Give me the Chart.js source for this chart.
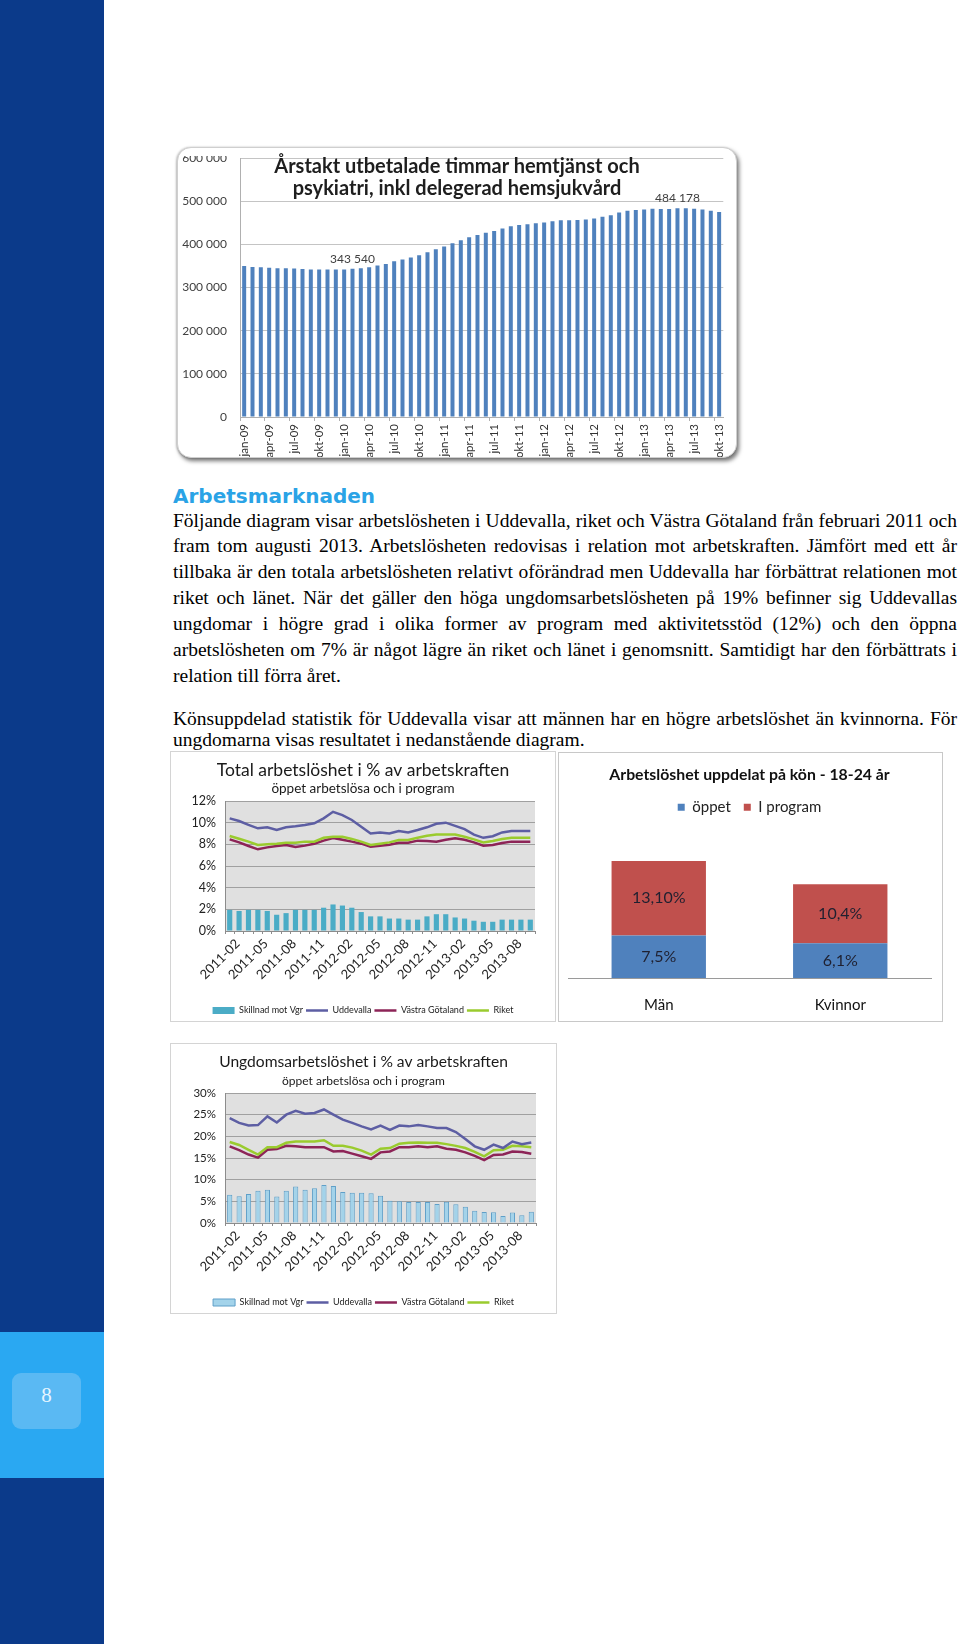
<!DOCTYPE html>
<html><head><meta charset="utf-8">
<script src="https://cdn.jsdelivr.net/npm/chart.js@4.4.0/dist/chart.umd.min.js"></script>
<style>
html,body{margin:0;padding:0;background:#fff;}
body{width:960px;height:1644px;position:relative;overflow:hidden;font-family:"Liberation Serif","Times New Roman",serif;}
.abs{position:absolute;}
#side{left:0;top:0;width:104px;height:1644px;background:#0b3a8a;}
#band{left:0;top:1332px;width:104px;height:146px;background:#2aa8f2;}
#pbox{left:12px;top:1373px;width:69px;height:56px;border-radius:9px;background:#5ab9f3;color:#e6f5ff;font:21px "Liberation Serif",serif;text-align:center;line-height:44px;}
#h1{left:173px;top:483px;font:bold 20px "DejaVu Sans",sans-serif;color:#2aa3e6;line-height:26px;white-space:nowrap;}
.ln{position:absolute;left:173px;width:784px;font-size:19.5px;line-height:24px;white-space:nowrap;color:#000;}
#card{left:177px;top:147px;width:560px;height:311px;box-sizing:border-box;border:1px solid #cfcfcf;border-radius:14px;background:#fff;overflow:hidden;box-shadow:2px 3px 4px rgba(0,0,0,0.55),-1px 0 2px rgba(0,0,0,0.2);}
#clip1{left:0;top:8px;width:558px;height:301px;overflow:hidden;}
#c1{position:absolute;left:0;top:-8px;}
#t1{left:0;top:6px;width:558px;text-align:center;font:bold 20px Lato,sans-serif;line-height:22px;color:#1e1e1e;}
.box{position:absolute;box-sizing:border-box;border:1px solid #d4d4d4;background:#fff;}
canvas{display:block;}
</style></head>
<body>
<div id="side" class="abs"></div>
<div id="band" class="abs"></div>
<div id="pbox" class="abs">8</div>

<div id="card" class="abs">
  <div id="clip1" class="abs"><canvas id="c1" width="558" height="309"></canvas></div>
  <div id="t1" class="abs">Årstakt utbetalade timmar hemtjänst och<br>psykiatri, inkl delegerad hemsjukvård</div>
</div>

<div id="h1" class="abs">Arbetsmarknaden</div>
<div class="ln j" style="top:509px"><span>Följande diagram visar arbetslösheten i Uddevalla, riket och Västra Götaland från februari 2011 och</span></div>
<div class="ln j" style="top:534px"><span>fram tom augusti 2013. Arbetslösheten redovisas i relation mot arbetskraften. Jämfört med ett år</span></div>
<div class="ln j" style="top:560px"><span>tillbaka är den totala arbetslösheten relativt oförändrad men Uddevalla har förbättrat relationen mot</span></div>
<div class="ln j" style="top:586px"><span>riket och länet. När det gäller den höga ungdomsarbetslösheten på 19% befinner sig Uddevallas</span></div>
<div class="ln j" style="top:612px"><span>ungdomar i högre grad i olika former av program med aktivitetsstöd (12%) och den öppna</span></div>
<div class="ln j" style="top:638px"><span>arbetslösheten om 7% är något lägre än riket och länet i genomsnitt. Samtidigt har den förbättrats i</span></div>
<div class="ln" style="top:664px"><span>relation till förra året.</span></div>
<div class="ln j" style="top:707px"><span>Könsuppdelad statistik för Uddevalla visar att männen har en högre arbetslöshet än kvinnorna. För</span></div>
<div class="ln" style="top:728px"><span>ungdomarna visas resultatet i nedanstående diagram.</span></div>

<div class="box" style="left:170px;top:751px;width:386px;height:271px;"></div>
<canvas id="c2" class="abs" width="384" height="273" style="left:171px;top:752px;"></canvas>

<div class="box" style="left:558px;top:752px;width:385px;height:270px;border-color:#c8c8c8;"></div>
<canvas id="c3" class="abs" width="380" height="268" style="left:559px;top:753px;"></canvas>

<div class="box" style="left:170px;top:1043px;width:387px;height:271px;"></div>
<canvas id="c4" class="abs" width="385" height="273" style="left:171px;top:1044px;"></canvas>

<script>
// ---------- DATA ----------
const hemMonths = ['jan-09','feb-09','mar-09','apr-09','maj-09','jun-09','jul-09','aug-09','sep-09','okt-09','nov-09','dec-09',
 'jan-10','feb-10','mar-10','apr-10','maj-10','jun-10','jul-10','aug-10','sep-10','okt-10','nov-10','dec-10',
 'jan-11','feb-11','mar-11','apr-11','maj-11','jun-11','jul-11','aug-11','sep-11','okt-11','nov-11','dec-11',
 'jan-12','feb-12','mar-12','apr-12','maj-12','jun-12','jul-12','aug-12','sep-12','okt-12','nov-12','dec-12',
 'jan-13','feb-13','mar-13','apr-13','maj-13','jun-13','jul-13','aug-13','sep-13','okt-13'];
const hemHours = [350000,348000,347000,346000,345000,345000,344000,343000,342000,342000,342000,342000,
 342000,343540,345000,347000,351000,355000,361000,365000,370000,375000,382000,389000,
 395000,403000,410000,417000,422000,427000,431000,437000,442000,445000,447000,449000,
 451000,454000,456000,456000,457000,458000,460000,464000,468000,474000,478000,480000,
 481000,483000,482000,482000,484178,484000,483000,481000,478000,475000];
const hemLabelledIdx = [13, 52];
const hemYTicks = ['0','100 000','200 000','300 000','400 000','500 000','600 000'];

const monthCats = ['2011-02','2011-03','2011-04','2011-05','2011-06','2011-07','2011-08','2011-09','2011-10','2011-11','2011-12',
 '2012-01','2012-02','2012-03','2012-04','2012-05','2012-06','2012-07','2012-08','2012-09','2012-10','2012-11','2012-12',
 '2013-01','2013-02','2013-03','2013-04','2013-05','2013-06','2013-07','2013-08','2013-09','2013-10'];
const seriesNames = ['Skillnad mot Vgr','Uddevalla','Västra Götaland','Riket'];

const totDiff = [1.95,1.85,1.95,1.95,1.85,1.5,1.65,1.95,1.95,1.95,2.15,2.45,2.35,2.15,1.75,1.35,1.35,1.15,1.15,1.05,1.05,1.35,1.55,1.55,1.25,1.15,0.95,0.85,0.85,1.05,1.05,1.05,1.05];
const totUdd = [10.4,10.15,9.8,9.48,9.57,9.32,9.57,9.66,9.78,9.94,10.4,11.0,10.7,10.25,9.63,9.0,9.1,9.0,9.23,9.1,9.32,9.57,9.9,10.0,9.7,9.4,8.9,8.6,8.75,9.1,9.23,9.23,9.23];
const totVG = [8.46,8.18,7.85,7.54,7.72,7.85,7.94,7.75,7.88,8.06,8.34,8.58,8.43,8.25,8.06,7.78,7.88,7.97,8.15,8.15,8.34,8.3,8.25,8.43,8.55,8.43,8.18,7.88,7.94,8.12,8.25,8.25,8.25];
const totRiket = [8.77,8.52,8.25,7.94,8.0,8.06,8.15,8.15,8.25,8.25,8.6,8.7,8.7,8.5,8.25,7.94,8.06,8.18,8.4,8.4,8.6,8.8,8.9,8.9,8.9,8.7,8.46,8.18,8.3,8.5,8.6,8.6,8.6];

const ungDiff = [6.5,6.15,6.7,7.45,7.7,6.1,7.45,8.45,7.7,8.0,8.77,8.54,7.15,7.0,7.0,6.85,6.3,5.15,5.0,4.85,4.85,4.85,4.4,4.9,4.3,3.77,2.85,2.54,2.46,1.6,2.4,1.77,2.6];
const ungUdd = [24.2,23.1,22.5,22.6,24.6,23.2,25.0,25.9,25.2,25.4,26.2,25.0,23.85,23.1,22.3,21.6,22.5,21.5,22.5,22.3,22.6,22.3,21.9,21.9,21.0,19.4,17.7,16.9,18.1,17.3,18.8,18.2,18.6];
const ungVG = [17.7,16.8,15.8,15.1,16.9,17.1,17.8,17.7,17.5,17.5,17.5,16.5,16.6,16.0,15.4,14.8,16.3,16.5,17.5,17.5,17.7,17.5,17.7,17.15,16.9,16.3,15.5,14.5,15.7,15.8,16.5,16.4,16.0];
const ungRiket = [18.7,18.0,16.9,15.8,17.5,17.5,18.5,18.8,18.8,18.8,19.1,17.8,17.8,17.4,16.7,15.8,17.15,17.3,18.3,18.5,18.6,18.5,18.5,18.2,17.8,17.3,16.4,15.4,16.8,16.9,17.8,17.7,17.5];

const genderCats = ['Män','Kvinnor'];
const genderOpen = [7.5, 6.1];
const genderProgram = [13.1, 10.4];
const genderOpenText = ['7,5%','6,1%'];
const genderProgramText = ['13,10%','10,4%'];

// ---------- paragraph justification ----------
document.querySelectorAll('.ln.j').forEach(el => {
  const sp = el.querySelector('span');
  const w = sp.getBoundingClientRect().width;
  const n = (sp.textContent.match(/ /g) || []).length;
  el.style.wordSpacing = ((784 - w) / n) + 'px';
});

// ---------- Chart.js ----------
Chart.defaults.font.family = 'Lato, "Liberation Sans", sans-serif';
Chart.defaults.color = '#333';
Chart.defaults.animation = false;

const plotBg = {
  id: 'plotBg',
  beforeDraw(chart, args, opts) {
    if (!opts || !opts.color) return;
    const {ctx, chartArea: a} = chart;
    ctx.save(); ctx.fillStyle = opts.color; ctx.fillRect(a.left, a.top, a.right - a.left, a.bottom - a.top); ctx.restore();
  }
};

const fmtThousands = v => String(Math.round(v)).replace(/\B(?=(\d{3})+(?!\d))/g, ' ');

const pointLabels = {
  id: 'pointLabels',
  afterDatasetsDraw(chart, args, opts) {
    if (!opts || !opts.indices) return;
    const {ctx} = chart;
    const meta = chart.getDatasetMeta(0);
    ctx.save();
    ctx.font = '12px Lato, sans-serif'; ctx.fillStyle = '#404040';
    ctx.textAlign = 'center'; ctx.textBaseline = 'middle';
    opts.indices.forEach(i => {
      const el = meta.data[i];
      ctx.fillText(fmtThousands(chart.data.datasets[0].data[i]), el.x, el.y - 10);
    });
    ctx.restore();
  }
};

const stackLabels = {
  id: 'stackLabels',
  afterDatasetsDraw(chart, args, opts) {
    if (!opts || !opts.texts) return;
    const {ctx} = chart;
    ctx.save();
    ctx.font = '16px Lato, sans-serif'; ctx.fillStyle = '#1f2030';
    ctx.textAlign = 'center'; ctx.textBaseline = 'middle';
    opts.texts.forEach((arr, di) => {
      const meta = chart.getDatasetMeta(di);
      meta.data.forEach((el, i) => ctx.fillText(arr[i], el.x, (el.y + el.base) / 2));
    });
    ctx.restore();
  }
};

// Chart 1: hemtjänst
new Chart(document.getElementById('c1'), {
  type: 'bar',
  data: { labels: hemMonths, datasets: [{ data: hemHours, backgroundColor: '#4f81bd', barPercentage: 0.48, categoryPercentage: 1 }] },
  options: {
    responsive: false, animation: false,
    layout: { padding: { top: 2, right: 8, left: 0, bottom: 0 } },
    plugins: { legend: { display: false }, tooltip: { enabled: false }, pointLabels: { indices: hemLabelledIdx } },
    scales: {
      x: {
        grid: { display: true, drawOnChartArea: false, tickLength: 4, color: ctx => (ctx.index % 3 === 0 ? '#b0b0b0' : 'rgba(0,0,0,0)') },
        border: { color: '#b0b0b0' },
        ticks: { autoSkip: false, maxRotation: 90, minRotation: 90, padding: 3, font: { size: 11.5 }, color: '#333',
          callback: (v, i) => (i % 3 === 0 ? hemMonths[i] : '') },
        afterFit: s => { s.height = 40; }
      },
      y: {
        min: 0, max: 600000,
        ticks: { stepSize: 100000, padding: 3, font: { size: 12 }, color: '#404040', callback: (v) => hemYTicks[Math.round(v / 100000)] },
        grid: { color: '#c4c4c4', drawTicks: true, tickLength: 10, tickColor: 'rgba(0,0,0,0)' },
        border: { color: '#b0b0b0' },
        afterFit: s => { s.width = 62; }
      }
    }
  },
  plugins: [pointLabels]
});

function trendChart(id, title, diff, udd, vg, riket, yMax, yStep, barStyle, fonts) {
  return new Chart(document.getElementById(id), {
    type: 'bar',
    data: {
      labels: monthCats,
      datasets: [
        Object.assign({ type: 'bar', label: seriesNames[0], data: diff, barPercentage: 0.55, categoryPercentage: 1, pointStyle: 'rect', order: 4 }, barStyle),
        { type: 'line', label: seriesNames[1], data: udd, borderColor: '#5d5ea3', backgroundColor: '#5d5ea3', borderWidth: 2.5, pointRadius: 0, tension: 0, pointStyle: 'line', order: 1 },
        { type: 'line', label: seriesNames[2], data: vg, borderColor: '#8d2457', backgroundColor: '#8d2457', borderWidth: 2.5, pointRadius: 0, tension: 0, pointStyle: 'line', order: 3 },
        { type: 'line', label: seriesNames[3], data: riket, borderColor: '#9acb2e', backgroundColor: '#9acb2e', borderWidth: 2.5, pointRadius: 0, tension: 0, pointStyle: 'line', order: 2 }
      ]
    },
    options: {
      responsive: false, animation: false,
      layout: { padding: { top: 0, right: 20, left: 20, bottom: 0 } },
      plugins: {
        tooltip: { enabled: false },
        plotBg: { color: '#e0e0e0' },
        title: { display: true, text: title, font: { size: fonts.title, weight: 'normal' }, color: '#1a1a1a',
          padding: { top: 18 - fonts.title * 0.6, bottom: 0 } },
        subtitle: { display: true, text: 'öppet arbetslösa och i program', font: { size: fonts.sub }, color: '#1a1a1a',
          padding: { top: 37 - (18 + fonts.title * 0.6) - fonts.sub * 0.6, bottom: 49 - 37 - fonts.sub * 0.6 } },
        legend: { position: 'bottom', labels: { usePointStyle: true, pointStyleWidth: 22, boxHeight: 7, padding: 3, font: { size: 9 }, color: '#222',
          sort: (a, b) => a.datasetIndex - b.datasetIndex } }
      },
      scales: {
        x: {
          grid: { display: true, drawOnChartArea: false, tickLength: 3, color: '#8c8c8c' },
          border: { color: '#8c8c8c' },
          ticks: { autoSkip: false, maxRotation: 45, minRotation: 45, padding: 2, labelOffset: 8, font: { size: 13 }, color: '#222',
            callback: (v, i) => (i % 3 === 0 ? monthCats[i] : '') },
          afterFit: s => { s.height = 72; }
        },
        y: {
          min: 0, max: yMax,
          ticks: { stepSize: yStep, padding: 9, font: { size: fonts.y }, color: '#222', callback: v => v + '%' },
          grid: { color: '#a0a0a0', drawTicks: false },
          border: { color: '#8c8c8c' },
          afterFit: s => { s.width = 34; }
        }
      }
    },
    plugins: [plotBg]
  });
}

trendChart('c2', 'Total arbetslöshet i % av arbetskraften', totDiff, totUdd, totVG, totRiket, 12, 2,
  { backgroundColor: '#4bacc6', borderWidth: 0 }, { title: 17.5, sub: 13.5, y: 12.5 });
trendChart('c4', 'Ungdomsarbetslöshet i % av arbetskraften', ungDiff, ungUdd, ungVG, ungRiket, 30, 5,
  { backgroundColor: '#a3d3ea', borderColor: '#5f9fc8', borderWidth: 1 }, { title: 15.6, sub: 12, y: 11.5 });

// Chart 3: gender
new Chart(document.getElementById('c3'), {
  type: 'bar',
  data: {
    labels: genderCats,
    datasets: [
      { label: 'öppet', data: genderOpen, backgroundColor: '#4f81bd', barPercentage: 0.52, categoryPercentage: 1 },
      { label: 'I program', data: genderProgram, backgroundColor: '#c0504d', barPercentage: 0.52, categoryPercentage: 1 }
    ]
  },
  options: {
    responsive: false, animation: false,
    layout: { padding: { top: 0, right: 8, left: 9, bottom: 0 } },
    plugins: {
      tooltip: { enabled: false },
      title: { display: true, text: 'Arbetslöshet uppdelat på kön - 18-24 år', font: { size: 15.8, weight: 'bold' }, color: '#111', padding: { top: 12.5, bottom: 2.2 } },
      legend: { position: 'top', labels: { boxWidth: 7, boxHeight: 7, padding: 13, font: { size: 15 }, color: '#222' } },
      stackLabels: { texts: [genderOpenText, genderProgramText] }
    },
    scales: {
      x: { stacked: true, grid: { display: false }, border: { color: '#9a9a9a' },
        ticks: { padding: 10, font: { size: 15 }, color: '#111' },
        afterFit: s => { s.height = 43; } },
      y: { stacked: true, display: false, min: 0, max: 27 }
    }
  },
  plugins: [stackLabels]
});
</script>
</body></html>
